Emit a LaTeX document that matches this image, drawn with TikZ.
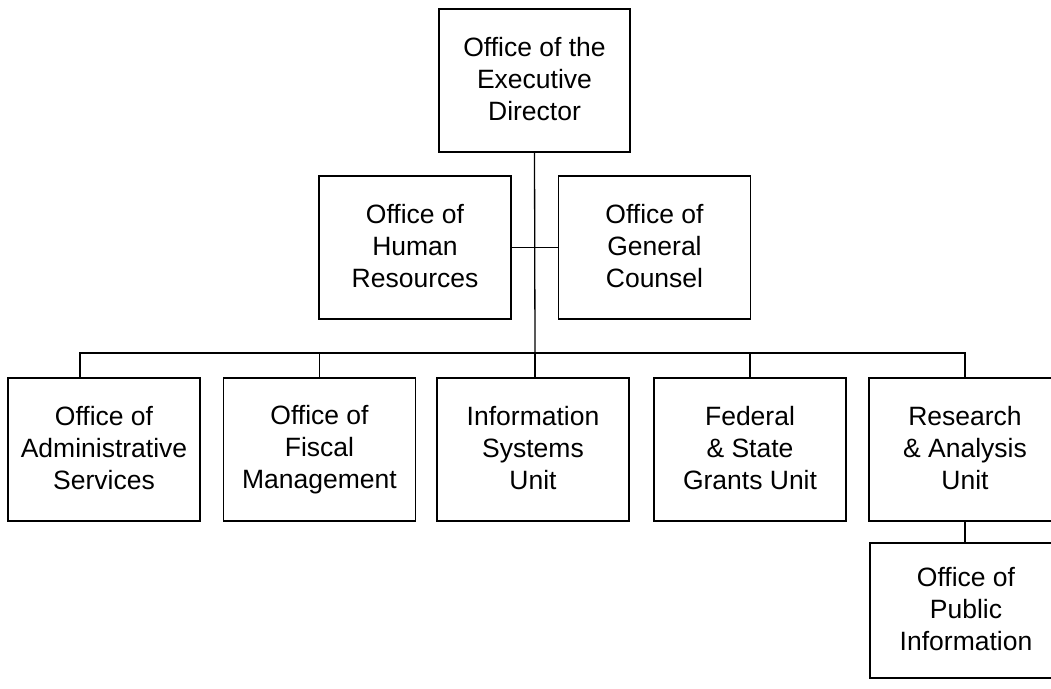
\documentclass[tikz,border=0pt]{standalone}
\usepackage{fontspec}
\setmainfont{Liberation Sans}
\usetikzlibrary{calc}
\newcommand{\boxstrut}{\rule[-3pt]{0pt}{32pt}}
\begin{document}
\begin{tikzpicture}[x=1pt,y=-1pt,
  unit/.style={draw=black,line width=1.3pt,rectangle,align=center,
    minimum width=192pt,minimum height=143pt,inner sep=0pt,
    font=\fontsize{26.5}{32}\selectfont,
    execute at begin node=\boxstrut,execute at end node=\boxstrut},
  link/.style={draw=black,line width=1.3pt}]
\useasboundingbox (0,0) rectangle (1051,688);
\begin{scope}
\clip (0,0) rectangle (1051,688);
\node[unit,minimum width=191pt] (top) at (534.5,80.5) {Office of the\\Executive\\Director};
\node[unit] (hr) at (415,247.5) {Office of\\Human\\Resources};
\node[unit] (gc) at (654.5,247.5) {Office of\\General\\Counsel};
\node[unit] (b1) at (104,449.5) {Office of\\Administrative\\Services};
\node[unit] (b2) at (319.5,449.5) {Office of\\Fiscal\\Management};
\node[unit] (b3) at (533,449.5) {Information\\Systems\\Unit};
\node[unit] (b4) at (750,449.5) {Federal\\\& State\\Grants Unit};
\node[unit] (b5) at (965,449.5) {Research\\\& Analysis\\Unit};
\node[unit,minimum height=135pt] (b6) at (966,610.5) {Office of\\Public\\Information};
\coordinate (j) at (535,353);
\coordinate (a1) at ($(b1.north)+(-24,0)$);
\coordinate (a3) at ($(b3.north)+(2,0)$);
\draw[link] (top.south) -- (j);
\draw[link] (hr.east) -- (gc.west);
\draw[link] (a1) |- (j) -- (a3);
\draw[link] (b5.north) |- (j);
\draw[link] (b2.north) -- (b2.north |- j);
\draw[link] (b4.north) -- (b4.north |- j);
\draw[link] (b5.south) -- (b5.south |- b6.north);
\end{scope}
\end{tikzpicture}
\end{document}
